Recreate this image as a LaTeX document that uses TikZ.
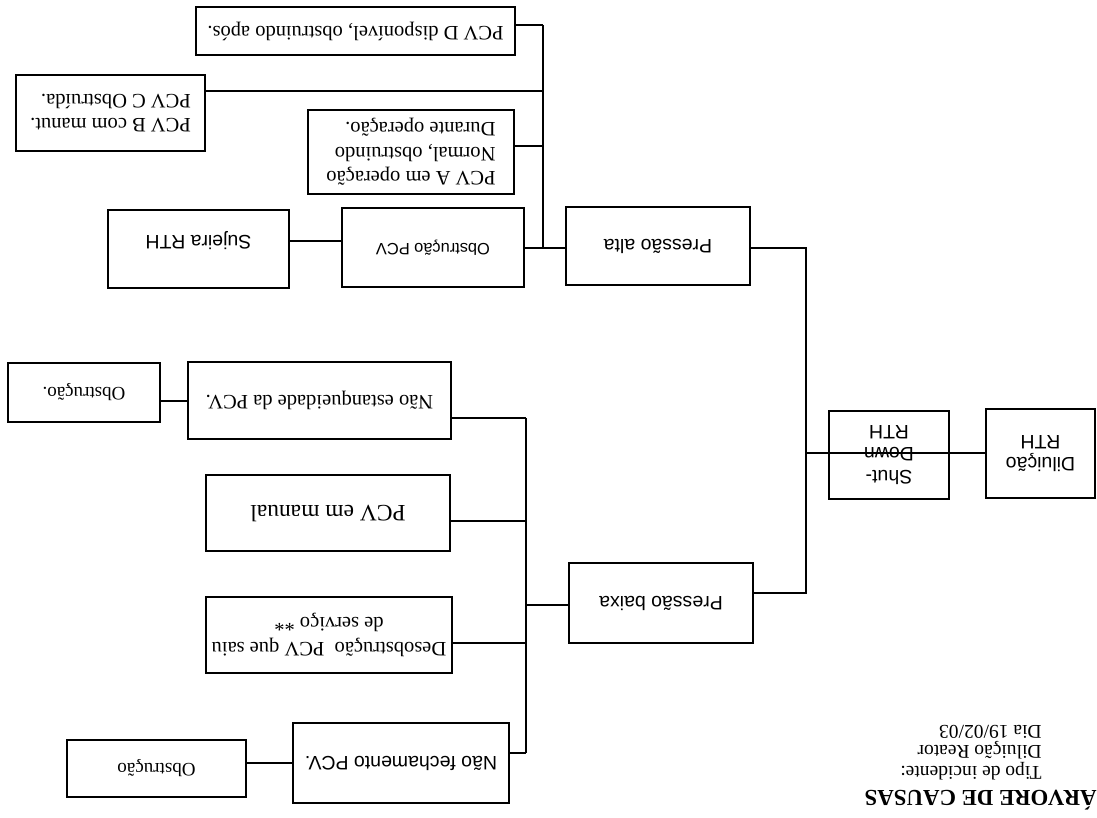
\documentclass[tikz,border=0pt]{standalone}
\usepackage{fontspec}
\setmainfont{Liberation Serif}
\newfontfamily\arialfont{Liberation Sans}

\tikzset{
	box/.style={draw, line width=0.8pt, inner sep=0pt, align=center, font=\fontsize{10.25}{12.25}\selectfont},
	sbox/.style={box, font=\arialfont\fontsize{9.75}{11.25}\selectfont},
	link/.style={line width=0.8pt}
}

\begin{document}
\begin{tikzpicture}[x=0.5pt, y=-0.5pt, rotate=180, transform shape]
	\fill[white] (0,0) rectangle (1097,818);
	\useasboundingbox (0,0) rectangle (1097,818);

	\node[anchor=west, inner sep=0pt, font=\bfseries\fontsize{11.4}{13}\selectfont] (titulo) at (0,18) {ÁRVORE DE CAUSAS};
	\node[anchor=west, inner sep=0pt, align=left, font=\fontsize{9.75}{10.25}\selectfont] (info) at (55,65.5) {Tipo de incidente:\\Diluição Reator\\Dia 19/02/03};

	\node[sbox, minimum width=54.5pt, minimum height=44.5pt] (dil) at (56.5,364.5) {Diluição\\RTH};
	\node[sbox, minimum width=60pt, minimum height=44pt] (shut) at (208,363) {Shut-\\Down\\RTH};
	\node[sbox, minimum width=92pt, minimum height=39pt] (alta) at (439,572) {Pressão alta};
	\node[sbox, minimum width=92pt, minimum height=40pt] (baixa) at (436,215) {Pressão baixa};

	\node[box, minimum width=159.5pt, minimum height=24pt] (pcvD) at (741.5,787) {PCV D disponível, obstruindo após.};
	\node[box, align=left, minimum width=94.5pt, minimum height=38pt] (pcvB) at (986.5,705) {PCV B com manut.\\PCV C Obstruída.};
	\node[box, align=left, minimum width=103pt, minimum height=42pt] (pcvA) at (686,666) {PCV A em operação\\Normal, obstruindo\\Durante operação.};
	\node[sbox, font=\arialfont\fontsize{8.2}{10}\selectfont, minimum width=91pt, minimum height=39.5pt] (obsPCV) at (664,570.5) {Obstrução PCV};
	\node[sbox, minimum width=90.5pt, minimum height=39pt, text height=16pt] (sujeira) at (898.5,569) {Sujeira RTH};

	\node[box, minimum width=131.5pt, minimum height=38.5pt] (naoEst) at (777.5,417.5) {Não estanqueidade da PCV.};
	\node[box, font=\fontsize{9.5}{11}\selectfont, minimum width=76pt, minimum height=29.5pt] (obsA) at (1013,425.5) {Obstrução.};
	\node[box, font=\fontsize{11.75}{13}\selectfont, minimum width=122pt, minimum height=38pt] (manual) at (769,305) {PCV em manual};
	\node[box, minimum width=123pt, minimum height=38pt] (desob) at (768,183) {Desobstrução~~PCV que saiu\\de serviço **};
	\node[sbox, minimum width=108pt, minimum height=40pt] (naoFech) at (696,55) {Não fechamento PCV.};
	\node[box, font=\fontsize{9.5}{11}\selectfont, minimum width=89.5pt, minimum height=28.5pt] (obsB) at (940.5,49.5) {Obstrução};

	\coordinate (tHi) at (291,570);
	\coordinate (tMid) at (291,365);
	\coordinate (tLo) at (291,225);
	\coordinate (jD) at (554,793);
	\coordinate (jB) at (554,727);
	\coordinate (jA) at (554,672);
	\coordinate (jAlta) at (554,570);
	\coordinate (kS) at (780,577);
	\coordinate (jE) at (571,400);
	\coordinate (jM) at (571,297);
	\coordinate (jBx) at (571,213);
	\coordinate (jDs) at (571,175);
	\coordinate (jF) at (571,65);
	\coordinate (kE) at (923,417);
	\coordinate (kF) at (828,55);

	\draw[link] (dil.east |- tMid) -- (shut.west |- tMid);
	\draw[link] (tMid) -- (shut.west |- tMid);
	\draw[link] (alta.west |- tHi) -- (tHi) -- (tLo) -- (baixa.west |- tLo);

	\draw[link] (jD) -- (jAlta);
	\draw[link] (jD) -- (jD -| pcvD.west);
	\draw[link] (jB) -- (jB -| pcvB.west);
	\draw[link] (jA) -- (jA -| pcvA.west);
	\draw[link] (alta.east |- jAlta) -- (obsPCV.west |- jAlta);
	\draw[link] (kS -| obsPCV.east) -- (kS -| sujeira.west);

	\draw[link] (baixa.east |- jBx) -- (jBx);
	\draw[link] (jE) -- (jF);
	\draw[link] (jE) -- (jE -| naoEst.west);
	\draw[link] (jM) -- (jM -| manual.west);
	\draw[link] (jDs) -- (jDs -| desob.west);
	\draw[link] (jF) -- (jF -| naoFech.west);
	\draw[link] (kE -| naoEst.east) -- (kE -| obsA.west);
	\draw[link] (kF -| naoFech.east) -- (kF -| obsB.west);
\end{tikzpicture}
\end{document}
